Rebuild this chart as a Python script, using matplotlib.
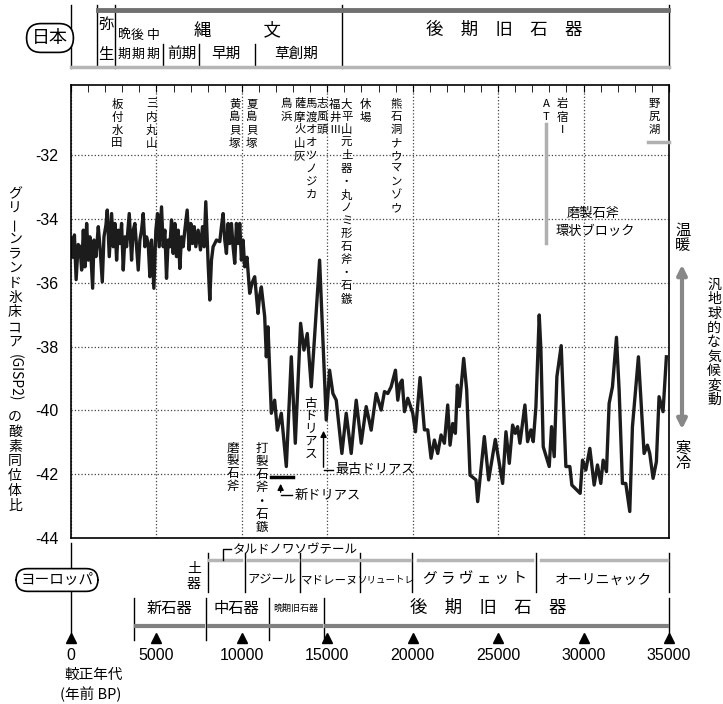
import matplotlib
matplotlib.use("Agg")
import matplotlib.pyplot as plt
from matplotlib.transforms import blended_transform_factory

plt.rcParams['font.family'] = ['Noto Sans CJK JP', 'DejaVu Sans']

# GISP2 oxygen isotope ratio (calibrated years BP, per mil)
years = [0, 100, 200, 300, 420, 526, 623, 721, 818, 916, 1013, 1110, 1266, 1344, 1461,
         1597, 1695, 1831, 1929, 2045, 2123, 2240, 2377, 2474, 2571, 2669, 2766, 2864,
         2961, 3058, 3156, 3253, 3409, 3545, 3643, 3740, 3838, 3935, 4032, 4130, 4227,
         4325, 4422, 4519, 4617, 4714, 4850, 4967, 5065, 5162, 5299, 5396, 5493, 5591,
         5688, 5786, 5883, 5980, 6078, 6175, 6273, 6370, 6467, 6565, 6662, 6799, 6915,
         7013, 7110, 7208, 7305, 7441, 7578, 7695, 7792, 7889, 8026, 8123, 8221, 8318,
         8415, 8513, 8708, 8805, 8902, 9000, 9097, 9195, 9292, 9389, 9487, 9584, 9682,
         9779, 9876, 9974, 10071, 10167, 10300, 10459, 10600, 10751, 10946, 11040, 11141,
         11336, 11433, 11530, 11725, 11920, 12076, 12310, 12602, 12894, 13128, 13439,
         13634, 13829, 14063, 14550, 14939, 15134, 15329, 15524, 15855, 16108, 16400,
         16693, 16985, 17277, 17569, 17861, 18154, 18347, 18542, 18737, 18990, 19126,
         19263, 19380, 19516, 19711, 20003, 20159, 20432, 20685, 20880, 21074, 21269,
         21464, 21659, 21854, 22048, 22185, 22341, 22496, 22613, 22730, 22983, 23159,
         23354, 23704, 23802, 24191, 24444, 24834, 25263, 25457, 25652, 25847, 26003,
         26139, 26275, 26567, 26723, 26918, 27055, 27211, 27405, 27503, 27639, 27990,
         28126, 28282, 28438, 28691, 28964, 29197, 29314, 29801, 29938, 30133, 30366,
         30620, 30814, 31009, 31146, 31340, 31496, 31691, 31925, 32081, 32275, 32470,
         32704, 32860, 33210, 33542, 33736, 33873, 34068, 34262, 34418, 34652, 34847]
d18o = [-34.6, -35.2, -34.5, -35.9, -34.8, -34.87, -35.60, -34.35, -35.50, -34.14, -35.29,
        -34.56, -36.17, -34.66, -35.18, -34.24, -34.87, -35.97, -34.56, -34.19, -33.72,
        -35.18, -33.83, -34.87, -34.14, -35.29, -34.35, -34.77, -34.14, -35.60, -34.56,
        -34.87, -33.83, -35.29, -34.35, -34.14, -34.87, -35.60, -34.66, -34.35, -33.83,
        -34.87, -34.56, -34.77, -35.81, -34.66, -36.17, -34.35, -33.83, -34.87, -33.62,
        -34.87, -34.35, -35.86, -34.66, -34.87, -34.03, -35.08, -34.14, -35.18, -34.35,
        -35.55, -34.56, -34.87, -34.35, -33.72, -34.97, -34.14, -34.77, -34.24, -34.87,
        -34.35, -34.97, -34.24, -34.87, -33.46, -35.39, -36.54, -35.29, -34.87, -34.77,
        -34.66, -34.71, -34.24, -33.83, -34.66, -35.08, -34.14, -34.77, -34.14, -34.87,
        -35.39, -34.14, -34.77, -34.14, -35.29, -34.66, -35.50, -35.20, -36.33, -36.00,
        -35.81, -36.96, -36.40, -36.13, -37.06, -38.32, -37.38, -40.09, -39.68, -40.62,
        -40.09, -41.76, -38.32, -41.03, -37.27, -38.11, -37.59, -39.26, -35.29, -40.30,
        -38.74, -39.47, -39.68, -41.35, -40.09, -41.35, -39.68, -41.03, -39.88, -40.62,
        -39.47, -39.99, -39.41, -39.47, -39.26, -38.74, -39.68, -39.15, -39.05, -40.04,
        -39.62, -40.09, -40.67, -38.97, -40.61, -40.61, -41.50, -40.93, -41.35, -40.77,
        -41.03, -39.83, -41.09, -40.41, -40.72, -39.21, -39.88, -38.37, -39.36, -42.03,
        -42.18, -42.86, -40.82, -42.18, -40.91, -42.29, -40.67, -41.66, -40.46, -40.72,
        -40.51, -41.03, -39.83, -40.98, -40.61, -40.98, -39.88, -37.01, -38.11, -41.14,
        -41.76, -40.51, -41.45, -38.94, -37.97, -41.76, -41.76, -42.34, -42.60, -41.56,
        -41.87, -41.19, -42.34, -41.71, -42.29, -41.56, -41.92, -39.78, -39.26, -37.71,
        -39.36, -42.29, -42.29, -43.17, -40.51, -38.32, -41.35, -41.09, -41.35, -42.13,
        -41.61, -39.57, -40.04, -38.32]

xticks = [0, 5000, 10000, 15000, 20000, 25000, 30000, 35000]
yticks = [-44, -42, -40, -38, -36, -34, -32]

# Japanese site labels (year position, text)
sites = [(2690, "板付水田"), (4730, "三内丸山"), (9580, "黄島貝塚"), (10580, "夏島貝塚"),
         (12620, "鳥浜"), (13380, "薩摩火山灰"), (14080, "馬渡オオツノジカ"),
         (14720, "志風頭"), (15430, "福井Ⅲ"), (16130, "大平山元土器・丸ノミ形石斧・石鏃"),
         (17240, "休場"), (19050, "熊石洞ナウマンゾウ"), (27810, "AT"), (28750, "岩宿Ⅰ"),
         (34120, "野尻湖")]

# Japan chronology header
jp_full_lines = [0, 2570, 15890, 35000]
jp_sub_lines = [5380, 7480, 10750]
jp_sub = [(6490, "前期"), (9060, "早期"), (13150, "草創期")]
jp_late = [(3100, "晩"), (3900, "後"), (4790, "中")]

# Europe chronology
eu_lines1 = [8005, 10167, 13380, 16886, 19983, 27228, 35000]
eu_text1 = [(11780, "アジール", 8.8), (15130, "マドレーヌ", 8.3), (18430, "ソリュートレ", 6.8),
            (23640, "グ ラ ヴ ェ ッ ト", 10.5), (31140, "オーリニャック", 10)]
eu_bars1 = [(8100, 9950), (10350, 13250), (13500, 16750), (17000, 19850), (20300, 27000), (27500, 34900)]
eu_lines2 = [3681, 7888, 11569, 14783, 35000]
eu_text2 = [(5785, "新石器", 11), (9700, "中石器", 11), (13150, "晩期旧石器", 6.5),
            (24420, "後　期　旧　石　器", 12.5)]
eu_bars2 = [(3800, 7750), (8050, 11450), (11700, 14650), (14950, 34900)]

W, H = 723, 704
fig = plt.figure(figsize=(W / 100, H / 100), dpi=100)
ax = fig.add_axes([71 / W, 1 - 538 / H, 598 / W, 453 / H])
ov = fig.add_axes([0, 0, 1, 1], zorder=5)
ov.set_xlim(0, W)
ov.set_ylim(H, 0)
ov.axis('off')
tr = blended_transform_factory(ax.transData, ov.transData)

ax.plot(years, d18o, color='#1c1c1c', lw=2.4)
ax.set_xlim(0, 35000)
ax.set_ylim(-44, -29.8)
ax.set_xticks(xticks)
ax.set_xticks(range(0, 35001, 1000), minor=True)
ax.set_yticks(yticks)
ax.set_yticklabels([str(v) for v in yticks], family='Liberation Sans', fontsize=11.5)
ax.tick_params(axis='x', which='both', bottom=False, top=True, direction='in',
               length=5, labelbottom=False)
ax.tick_params(axis='y', length=0, pad=9)
ax.grid(True, which='major', ls=':', color='#444444', lw=0.9)
for s in ax.spines.values():
    s.set_linewidth(1.2)


def vtext(x, y, s, size, step, trans=None, **kw):
    for i, ch in enumerate(s):
        rot = 90 if ch == 'ー' else 0
        ov.text(x, y + i * step, ch, size=size, rotation=rot, ha='center', va='center',
                transform=trans or ov.transData, **kw)


# sites
for yr, name in sites:
    vtext(yr, 104, name, 8.2, 13.0, tr)
ov.plot([27810, 27810], [124, 243], color='#b0b0b0', lw=2.5, transform=tr)
ov.plot([33750, 35000], [142, 142], color='#b0b0b0', lw=2.5, transform=tr)
ov.text(30560, 213, "磨製石斧", size=9.5, ha='center', va='center', transform=tr)
ov.text(30680, 231, "環状ブロック", size=9.5, ha='center', va='center', transform=tr)

# dryas labels
vtext(14020, 403, "古ドリアス", 9, 12.8, tr)
ov.annotate('', xy=(14780, 428), xytext=(14780, 470), xycoords=tr, textcoords=tr,
            arrowprops=dict(arrowstyle='-|>', color='k', lw=1, mutation_scale=9))
ov.plot([14780, 15330], [470, 470], color='k', lw=1, transform=tr)
ov.text(15450, 470, "最古ドリアス", size=9.5, ha='left', va='center', transform=tr)
ax.plot([11700, 13000], [-42.1, -42.1], color='k', lw=2.5)
ov.annotate('', xy=(12270, 481), xytext=(12270, 495), xycoords=tr, textcoords=tr,
            arrowprops=dict(arrowstyle='-|>', color='k', lw=1, mutation_scale=9))
ov.plot([12270, 12950], [495, 495], color='k', lw=1, transform=tr)
ov.text(13100, 495, "新ドリアス", size=9.5, ha='left', va='center', transform=tr)
vtext(9470, 448, "磨製石斧", 9, 12.8, tr)
vtext(11160, 448, "打製石斧・石鏃", 9, 13.3, tr)

# y label and right side
vtext(15, 194, "グリーンランド氷床コア", 10, 14.8)
ov.text(15, 378, "(GISP2)", size=10, rotation=-90, ha='center', va='center')
vtext(15, 417, "の酸素同位体比", 10, 14.8)
vtext(683, 230, "温暖", 11, 15.5)
vtext(683, 448, "寒冷", 11, 15.5)
ov.annotate('', xy=(682, 262), xytext=(682, 432),
            arrowprops=dict(arrowstyle='<|-|>', color='#888888', lw=3, mutation_scale=14))
vtext(714, 285, "汎地球的な気候変動", 10, 14.3)

# Japan header
for yr in jp_full_lines:
    ov.plot([yr, yr], [5, 68], color='k', lw=1, transform=tr)
ov.plot([1520, 1520], [5, 65], color='k', lw=1, transform=tr)
for yr in jp_sub_lines:
    ov.plot([yr, yr], [44, 65], color='k', lw=1, transform=tr)
ov.plot([1560, 2450], [10, 10], color='#707070', lw=3.5, transform=tr)
ov.plot([2650, 15800], [10, 10], color='#707070', lw=3.5, transform=tr)
ov.plot([16000, 34950], [10, 10], color='#707070', lw=3.5, transform=tr)
ov.plot([0, 35000], [67, 67], color='#b5b5b5', lw=2.5, transform=tr)
ov.text(2045, 24, "弥", size=11, ha='center', va='center', transform=tr)
ov.text(2045, 54, "生", size=11, ha='center', va='center', transform=tr)
for yr, ch in jp_late:
    ov.text(yr, 35, ch, size=9.3, ha='center', va='center', transform=tr)
    ov.text(yr, 54, "期", size=9.3, ha='center', va='center', transform=tr)
for yr, name in jp_sub:
    ov.text(yr, 54, name, size=10.5, ha='center', va='center', transform=tr)
ov.text(9760, 30, "縄　　　文", size=12.5, ha='center', va='center', transform=tr)
ov.text(25360, 30, "後　期　旧　石　器", size=12.5, ha='center', va='center', transform=tr)
ov.text(50, 38, "日本", size=13, ha='center', va='center',
        bbox=dict(boxstyle='round,pad=0.3,rounding_size=0.8', fc='white', ec='k', lw=1.2))

# Europe header
ov.plot([0, 0], [543, 640], color='k', lw=1, transform=tr)
ov.text(57, 580, "ヨーロッパ", size=10.5, ha='center', va='center',
        bbox=dict(boxstyle='round,pad=0.3,rounding_size=0.8', fc='white', ec='k', lw=1.2))
vtext(7190, 569, "土器", 10, 15, tr)
for yr in eu_lines1:
    ov.plot([yr, yr], [553, 592], color='k', lw=1, transform=tr)
for a, b in eu_bars1:
    ov.plot([a, b], [560, 560], color='#b5b5b5', lw=2.5, transform=tr)
for yr, name, fs in eu_text1:
    ov.text(yr, 580, name, size=fs, ha='center', va='center', transform=tr)
ov.plot([8880, 8880, 9350], [560, 549, 549], color='k', lw=1, transform=tr)
ov.text(9450, 549, "タルドノワソヴテール", size=9, ha='left', va='center', transform=tr)
for yr in eu_lines2:
    ov.plot([yr, yr], [598, 640], color='k', lw=1, transform=tr)
for a, b in eu_bars2:
    ov.plot([a, b], [626, 626], color='#808080', lw=3, transform=tr)
for yr, name, fs in eu_text2:
    ov.text(yr, 608, name, size=fs, ha='center', va='center', transform=tr)

# time axis
ov.plot(xticks, [638] * len(xticks), '^', color='k', ms=7, transform=tr, clip_on=False)
for xt in xticks:
    ov.text(xt, 655, str(xt), size=11.5, family='Liberation Sans', ha='center', va='center',
            transform=tr)
ov.text(64, 675, "較正年代", size=10.5, ha='left', va='center')
ov.text(60, 694, "(年前 BP)", size=10.5, ha='left', va='center')

fig.savefig("out.png", dpi=100)
